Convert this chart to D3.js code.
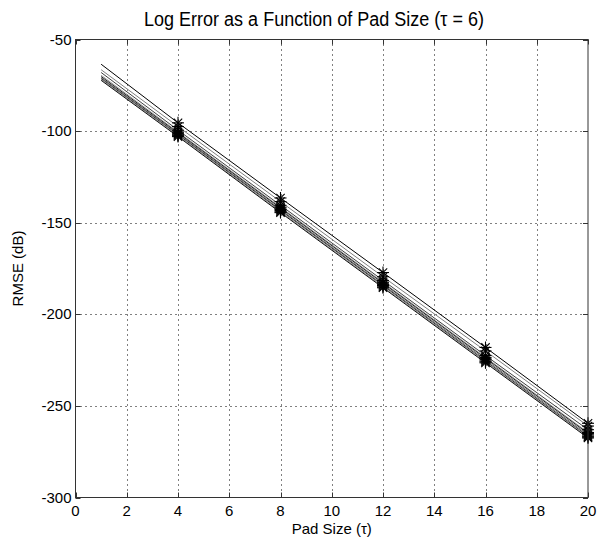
<!DOCTYPE html>
<html>
<head>
<meta charset="utf-8">
<script src="https://d3js.org/d3.v7.min.js"></script>
<style>
  body { margin: 0; background: #fff; }
  text { font-family: Arial, "Liberation Sans", sans-serif; fill: #000; }
</style>
</head>
<body>
<svg id="svgMain" width="600" height="541"></svg>
<script>
// pad sizes where each curve was sampled (stars drawn at 4..20)
const padSizes = [1, 4, 8, 12, 16, 20];
const markerPads = [4, 8, 12, 16, 20];

// RMSE (dB) for each run
const run1 = [-63.5, -95.5, -136.5, -177.2, -218.1, -259.5];
const run2 = [-66.5, -97.5, -138.5, -179.5, -220.0, -261.0];
const run3 = [-68.0, -99.5, -140.5, -181.5, -222.5, -263.0];
const run4 = [-69.5, -100.5, -141.5, -182.5, -223.5, -264.5];
const run5 = [-70.2, -101.0, -142.0, -183.0, -224.0, -265.0];
const run6 = [-70.8, -101.5, -142.8, -183.8, -224.8, -265.8];
const run7 = [-71.3, -102.0, -143.3, -184.3, -225.5, -266.5];
const run8 = [-71.8, -102.5, -144.0, -185.0, -226.0, -267.0];
const run9 = [-72.3, -103.0, -144.5, -185.5, -226.5, -267.5];
const runs = [run1, run2, run3, run4, run5, run6, run7, run8, run9];
const runColors = ["#000", "#808080", "#404040", "#9a9a9a", "#202020", "#6a6a6a", "#303030", "#8a8a8a", "#101010"];

const xTicks = [0, 2, 4, 6, 8, 10, 12, 14, 16, 18, 20];
const yTicks = [-300, -250, -200, -150, -100, -50];

const svg = d3.select("#svgMain");
const plotL = 75.5, plotR = 588, plotT = 39.5, plotB = 497.5;

const x = d3.scaleLinear().domain([0, 20]).range([plotL, plotR]);
const y = d3.scaleLinear().domain([-300, -50]).range([plotB, plotT]);

// dotted grid
const grid = svg.append("g").attr("stroke", "#000").attr("stroke-width", 1)
    .attr("stroke-dasharray", "1,4");
grid.selectAll(".gx").data(xTicks.slice(1, -1)).join("line")
    .attr("x1", d => Math.round(x(d)) + 0.5).attr("x2", d => Math.round(x(d)) + 0.5)
    .attr("y1", plotT).attr("y2", plotB);
grid.selectAll(".gy").data(yTicks.slice(1, -1)).join("line")
    .attr("y1", d => Math.round(y(d)) + 0.5).attr("y2", d => Math.round(y(d)) + 0.5)
    .attr("x1", plotL).attr("x2", plotR);

// curves
const line = d3.line().x((d, i) => x(padSizes[i])).y(d => y(d));
svg.append("g").selectAll("path").data(runs).join("path")
    .attr("fill", "none")
    .attr("stroke", (d, i) => runColors[i])
    .attr("stroke-width", 1)
    .attr("d", line);

// star markers
const starSize = 6;
runs.forEach(r => {
    markerPads.forEach(p => {
        const v = r[padSizes.indexOf(p)];
        const cx = x(p), cy = y(v);
        const g = svg.append("g").attr("stroke", "#000").attr("stroke-width", 1.1);
        g.append("line").attr("x1", cx - starSize).attr("x2", cx + starSize).attr("y1", cy).attr("y2", cy);
        g.append("line").attr("x1", cx).attr("x2", cx).attr("y1", cy - starSize).attr("y2", cy + starSize);
        g.append("line").attr("x1", cx - starSize * 0.7).attr("x2", cx + starSize * 0.7)
            .attr("y1", cy - starSize * 0.7).attr("y2", cy + starSize * 0.7);
        g.append("line").attr("x1", cx - starSize * 0.7).attr("x2", cx + starSize * 0.7)
            .attr("y1", cy + starSize * 0.7).attr("y2", cy - starSize * 0.7);
    });
});

// box + inward ticks on all sides
const axisG = svg.append("g").attr("stroke", "#333").attr("stroke-width", 1).attr("fill", "none");
axisG.append("rect").attr("x", plotL).attr("y", plotT).attr("width", plotR - plotL).attr("height", plotB - plotT);
xTicks.forEach(t => {
    const px = Math.round(x(t)) + 0.5;
    axisG.append("line").attr("x1", px).attr("x2", px).attr("y1", plotB).attr("y2", plotB - 5);
    axisG.append("line").attr("x1", px).attr("x2", px).attr("y1", plotT).attr("y2", plotT + 5);
});
yTicks.forEach(t => {
    const py = Math.round(y(t)) + 0.5;
    axisG.append("line").attr("y1", py).attr("y2", py).attr("x1", plotL).attr("x2", plotL + 5);
    axisG.append("line").attr("y1", py).attr("y2", py).attr("x1", plotR).attr("x2", plotR - 5);
});

// tick labels
svg.append("g").selectAll("text").data(xTicks).join("text")
    .attr("x", d => x(d)).attr("y", plotB + 18)
    .attr("text-anchor", "middle").attr("font-size", 15)
    .text(d => d);
svg.append("g").selectAll("text").data(yTicks).join("text")
    .attr("x", plotL - 4).attr("y", d => y(d) + 5)
    .attr("text-anchor", "end").attr("font-size", 15)
    .text(d => d);

// titles
svg.append("text").attr("x", 314).attr("y", 26)
    .attr("text-anchor", "middle").attr("font-size", 20)
    .attr("textLength", 340).attr("lengthAdjust", "spacingAndGlyphs")
    .text("Log Error as a Function of Pad Size (τ = 6)");
svg.append("text").attr("x", (plotL + plotR) / 2).attr("y", 534)
    .attr("text-anchor", "middle").attr("font-size", 15)
    .text("Pad Size (τ)");
svg.append("text")
    .attr("transform", "translate(23," + ((plotT + plotB) / 2) + ") rotate(-90)")
    .attr("text-anchor", "middle").attr("font-size", 15)
    .text("RMSE (dB)");
</script>
</body>
</html>
